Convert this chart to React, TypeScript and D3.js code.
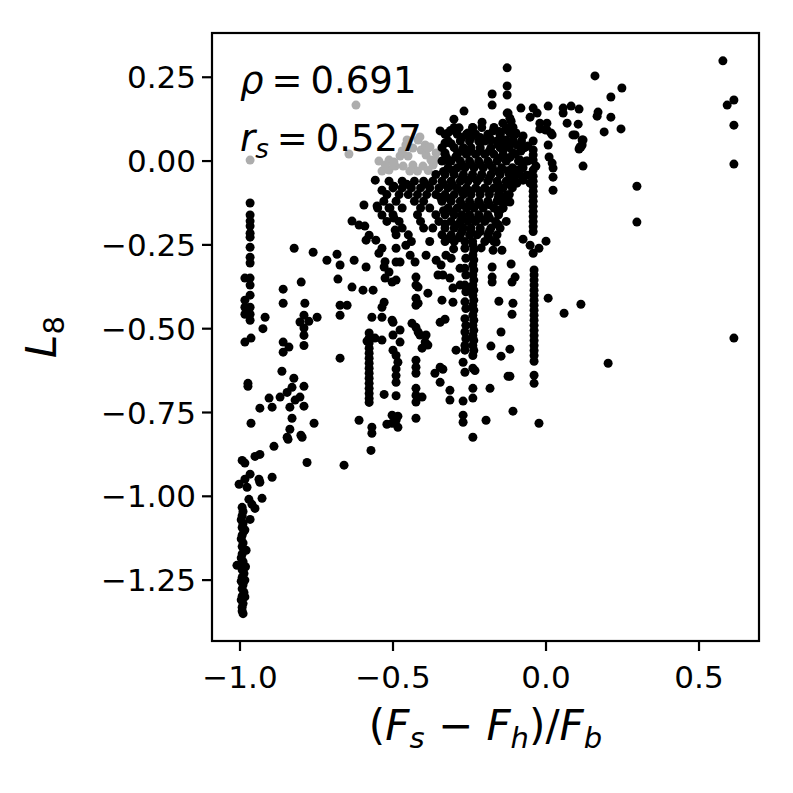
import React from "react";
import * as d3 from "d3";

type P = [number, number];

// ---- data (x = (Fs - Fh)/Fb, y = L8) ----
const greyPoints: P[] = [
  [-0.621, 0.167], [-0.967, 0.003], [-0.644, 0.021], [-0.546, 0.0], [-0.513, 0.003], [-0.497, -0.003],
  [-0.536, -0.030], [-0.513, -0.027], [-0.493, -0.015], [-0.500, -0.006], [-0.477, 0.015], [-0.458, 0.048],
  [-0.451, 0.015], [-0.418, 0.063], [-0.408, 0.033], [-0.395, 0.048], [-0.392, 0.018], [-0.376, 0.003],
  [-0.369, -0.012], [-0.435, -0.012], [-0.402, -0.015], [-0.467, -0.015], [-0.359, 0.024], [-0.359, 0.003],
  [-0.386, 0.039], [-0.435, 0.039], [-0.454, 0.063], [-0.412, 0.072], [-0.379, 0.042], [-0.470, 0.030],
  [-0.445, -0.030], [-0.420, -0.030], [-0.385, -0.028], [-0.525, -0.012],
];

const columnLeftBottom: P[] = [
  [-0.993, -1.033], [-0.990, -1.045], [-0.993, -1.058], [-0.996, -1.070], [-0.990, -1.081], [-0.993, -1.093],
  [-0.987, -1.104], [-0.993, -1.116], [-0.996, -1.127], [-0.990, -1.139], [-0.993, -1.150], [-0.987, -1.160],
  [-0.993, -1.172], [-0.996, -1.184], [-0.990, -1.195], [-0.993, -1.207], [-1.010, -1.206], [-0.993, -1.219],
  [-0.987, -1.230], [-0.993, -1.242], [-0.996, -1.253], [-0.990, -1.264], [-0.993, -1.276], [-0.987, -1.287],
  [-0.993, -1.298], [-0.996, -1.309], [-0.990, -1.320], [-0.993, -1.331], [-0.993, -1.342], [-0.990, -1.350],
  [-0.980, -1.161], [-0.984, -1.100], [-0.984, -1.250], [-0.984, -1.300], [-0.982, -1.210],
];

const leftArc: P[] = [
  [-0.889, -0.851], [-0.843, -0.830], [-0.797, -0.824], [-0.993, -0.893], [-0.984, -0.901], [-0.951, -0.881],
  [-0.935, -0.875], [-0.781, -0.899], [-0.660, -0.907], [-0.572, -0.863], [-0.967, -0.934], [-0.984, -0.949],
  [-1.003, -0.964], [-0.977, -0.973], [-0.938, -0.949], [-0.935, -0.958], [-0.895, -0.943], [-0.971, -1.009],
  [-0.961, -1.024], [-0.951, -1.036], [-0.928, -1.006], [-0.967, -1.069],
  [-0.824, -0.648], [-0.830, -0.675], [-0.791, -0.672], [-0.846, -0.690], [-0.869, -0.704], [-0.804, -0.704],
  [-0.820, -0.713], [-0.791, -0.731], [-0.905, -0.707], [-0.895, -0.734], [-0.935, -0.737], [-0.837, -0.734],
  [-0.830, -0.767], [-0.837, -0.800], [-0.801, -0.818], [-0.964, -0.782], [-0.846, -0.824], [-0.758, -0.782],
  [-0.611, -0.773], [-0.863, -0.627], [-0.974, -0.663], [-0.974, -0.672],
];

const columnLeftTop: P[] = [
  [-0.967, -0.125], [-0.967, -0.161], [-0.967, -0.179], [-0.967, -0.194], [-0.967, -0.215], [-0.967, -0.227],
  [-0.967, -0.257], [-0.967, -0.287], [-0.967, -0.304], [-0.984, -0.349], [-0.967, -0.349], [-0.967, -0.370],
  [-0.967, -0.400], [-0.984, -0.415], [-0.984, -0.436], [-0.967, -0.436], [-0.984, -0.457], [-0.967, -0.457],
  [-0.967, -0.475], [-0.984, -0.540], [-0.964, -0.528],
];

const midLeft: P[] = [
  [-0.918, -0.466], [-0.925, -0.500], [-0.859, -0.382], [-0.800, -0.361], [-0.823, -0.260], [-0.761, -0.272],
  [-0.716, -0.296], [-0.683, -0.278], [-0.673, -0.310], [-0.627, -0.296], [-0.588, -0.316], [-0.680, -0.352],
  [-0.634, -0.376], [-0.598, -0.385], [-0.565, -0.385], [-0.859, -0.424], [-0.788, -0.424], [-0.791, -0.460],
  [-0.804, -0.480], [-0.775, -0.478], [-0.791, -0.498], [-0.791, -0.520], [-0.791, -0.550], [-0.748, -0.466],
  [-0.859, -0.540], [-0.840, -0.555], [-0.859, -0.570], [-0.673, -0.430], [-0.650, -0.430], [-0.673, -0.460],
  [-0.673, -0.588],
];

const columnMinus058: P[] = [
  [-0.578, -0.513], [-0.578, -0.528], [-0.578, -0.543], [-0.578, -0.558], [-0.578, -0.573], [-0.578, -0.588],
  [-0.578, -0.603], [-0.578, -0.618], [-0.578, -0.633], [-0.578, -0.648], [-0.578, -0.663], [-0.578, -0.678],
  [-0.578, -0.693], [-0.578, -0.708], [-0.578, -0.720], [-0.585, -0.537], [-0.559, -0.528], [-0.536, -0.534],
  [-0.529, -0.696], [-0.503, -0.758], [-0.503, -0.782], [-0.520, -0.785], [-0.569, -0.794], [-0.569, -0.812],
  [-0.588, -0.236], [-0.556, -0.236], [-0.536, -0.260], [-0.546, -0.275], [-0.526, -0.300], [-0.529, -0.316],
  [-0.513, -0.331], [-0.526, -0.349], [-0.503, -0.361], [-0.529, -0.421], [-0.536, -0.436], [-0.569, -0.466],
  [-0.536, -0.466], [-0.503, -0.475],
];

const columnMinus049: P[] = [
  [-0.500, -0.481], [-0.477, -0.504], [-0.500, -0.519], [-0.477, -0.540], [-0.500, -0.564], [-0.484, -0.600],
  [-0.490, -0.580], [-0.490, -0.620], [-0.490, -0.640], [-0.490, -0.660], [-0.490, -0.700], [-0.484, -0.761],
  [-0.490, -0.773], [-0.484, -0.794],
];

const columnMinus042: P[] = [
  [-0.425, -0.346], [-0.425, -0.370], [-0.418, -0.376], [-0.425, -0.409], [-0.425, -0.430], [-0.418, -0.424],
  [-0.438, -0.484], [-0.425, -0.496], [-0.418, -0.510], [-0.412, -0.519], [-0.392, -0.519], [-0.395, -0.540],
  [-0.405, -0.558], [-0.386, -0.549], [-0.425, -0.594], [-0.425, -0.615], [-0.425, -0.633], [-0.425, -0.678],
  [-0.425, -0.699], [-0.425, -0.719], [-0.405, -0.704], [-0.425, -0.767], [-0.490, -0.355],
  [-0.490, -0.260], [-0.458, -0.251], [-0.444, -0.281], [-0.428, -0.301], [-0.490, -0.301], [-0.477, -0.301],
  [-0.392, -0.281], [-0.359, -0.296], [-0.343, -0.310], [-0.337, -0.340], [-0.314, -0.349], [-0.327, -0.281],
  [-0.310, -0.290], [-0.281, -0.320], [-0.281, -0.370], [-0.261, -0.379], [-0.304, -0.379], [-0.353, -0.340],
  [-0.386, -0.394], [-0.340, -0.415], [-0.304, -0.421], [-0.346, -0.481], [-0.330, -0.472], [-0.346, -0.615],
  [-0.337, -0.621], [-0.363, -0.633], [-0.346, -0.660], [-0.314, -0.684], [-0.314, -0.713],
];

const columnMinus026: P[] = [
  [-0.265, -0.260], [-0.262, -0.290], [-0.265, -0.320], [-0.262, -0.340], [-0.265, -0.370], [-0.262, -0.390],
  [-0.265, -0.420], [-0.262, -0.440], [-0.265, -0.470], [-0.262, -0.490], [-0.265, -0.510], [-0.262, -0.530],
  [-0.265, -0.550], [-0.265, -0.564], [-0.294, -0.564], [-0.271, -0.600], [-0.265, -0.630], [-0.271, -0.716],
  [-0.271, -0.758], [-0.271, -0.779],
];

const columnMinus024: P[] = [
  [-0.239, -0.250], [-0.236, -0.265], [-0.239, -0.280], [-0.236, -0.295], [-0.239, -0.310], [-0.236, -0.325],
  [-0.239, -0.340], [-0.236, -0.355], [-0.239, -0.370], [-0.236, -0.385], [-0.239, -0.400], [-0.236, -0.415],
  [-0.239, -0.430], [-0.236, -0.445], [-0.239, -0.460], [-0.236, -0.475], [-0.239, -0.490], [-0.236, -0.505],
  [-0.239, -0.520], [-0.236, -0.535], [-0.239, -0.550], [-0.236, -0.565], [-0.239, -0.580], [-0.239, -0.618],
  [-0.239, -0.678], [-0.239, -0.707], [-0.239, -0.824], [-0.232, -0.625],
];

const rightMid: P[] = [
  [-0.176, -0.316], [-0.176, -0.346], [-0.176, -0.361], [-0.114, -0.307], [-0.101, -0.346], [-0.111, -0.361],
  [-0.154, -0.418], [-0.108, -0.424], [-0.111, -0.457], [-0.147, -0.510], [-0.180, -0.552], [-0.147, -0.582],
  [-0.118, -0.561], [-0.124, -0.642], [-0.118, -0.642], [-0.183, -0.678], [-0.196, -0.773], [-0.108, -0.746],
  [-0.023, -0.782], [0.007, -0.409], [0.059, -0.454], [0.000, -0.239], [-0.023, -0.260], [-0.075, -0.233],
  [-0.052, -0.251], [-0.144, -0.266], [-0.173, -0.266], [-0.163, -0.242],
];

const columnMinus004: P[] = [
  [-0.042, -0.045], [-0.042, -0.060], [-0.042, -0.075], [-0.042, -0.090], [-0.042, -0.105], [-0.042, -0.120],
  [-0.042, -0.135], [-0.042, -0.150], [-0.042, -0.165], [-0.042, -0.180], [-0.042, -0.195], [-0.042, -0.210],
  [-0.042, -0.275], [-0.039, -0.325], [-0.039, -0.340], [-0.039, -0.355], [-0.039, -0.370], [-0.039, -0.385],
  [-0.039, -0.400], [-0.039, -0.415], [-0.039, -0.430], [-0.039, -0.445], [-0.039, -0.460], [-0.039, -0.475],
  [-0.039, -0.490], [-0.039, -0.505], [-0.039, -0.520], [-0.039, -0.535], [-0.039, -0.550], [-0.039, -0.565],
  [-0.039, -0.580], [-0.039, -0.597], [-0.039, -0.639], [-0.039, -0.663],
];

const upperCluster: P[] = [
  [-0.127, 0.278], [-0.127, 0.224], [-0.127, 0.197], [-0.176, 0.200], [-0.176, 0.167], [-0.268, 0.149],
  [-0.301, 0.125], [-0.284, 0.099], [-0.209, 0.116], [-0.239, 0.099], [-0.255, 0.084], [-0.346, 0.090],
  [-0.320, 0.084], [-0.330, 0.054], [-0.330, 0.024], [-0.327, 0.003], [-0.082, 0.158], [-0.042, 0.158],
  [-0.029, 0.143], [-0.052, 0.131], [0.007, 0.164], [-0.020, 0.113], [-0.003, 0.093], [0.016, 0.084],
  [0.056, 0.158], [0.082, 0.164], [0.108, 0.155], [0.056, 0.143], [0.069, 0.113], [0.105, 0.110],
  [0.088, 0.078], [0.121, 0.063], [0.114, 0.042], [0.108, 0.036], [0.121, -0.015], [0.003, 0.113],
  [-0.020, 0.096], [0.020, 0.078], [0.003, 0.093], [-0.124, 0.143], [-0.114, 0.119], [-0.118, 0.093],
  [-0.131, 0.063], [-0.108, 0.054], [-0.098, 0.084], [-0.173, 0.090], [-0.180, 0.063], [-0.150, 0.054],
  [-0.209, 0.063], [-0.075, 0.075], [-0.059, 0.045], [-0.082, 0.030], [-0.065, 0.000], [-0.042, 0.003],
  [-0.042, -0.027], [-0.033, -0.015], [-0.042, 0.060], [-0.042, 0.033], [-0.042, 0.018], [0.010, 0.012],
  [0.020, -0.006], [0.023, -0.021], [0.023, -0.048], [0.023, -0.087], [0.007, 0.048],
  [-0.127, 0.143], [-0.118, 0.128], [-0.141, 0.113], [-0.108, 0.101], [-0.118, 0.084], [-0.108, 0.063],
  [-0.150, 0.078], [-0.127, 0.048], [-0.141, 0.033], [-0.108, 0.024], [-0.085, 0.003], [-0.095, -0.027],
  [-0.108, -0.048], [-0.095, -0.066], [-0.150, -0.087], [-0.127, -0.101], [-0.118, -0.122], [-0.141, -0.125],
  [-0.150, -0.146], [-0.078, -0.018], [-0.069, 0.042], [-0.062, -0.042], [-0.075, -0.057], [-0.052, -0.066],
];

const farRight: P[] = [
  [0.160, 0.254], [0.248, 0.218], [0.212, 0.191], [0.170, 0.146], [0.167, 0.134], [0.212, 0.131],
  [0.190, 0.087], [0.245, 0.096], [0.095, 0.078], [0.118, 0.063], [0.111, 0.042], [0.118, 0.048],
  [0.297, -0.075], [0.297, -0.182], [0.578, 0.299], [0.592, 0.167], [0.614, 0.182], [0.614, 0.107],
  [0.614, -0.009], [0.614, -0.528], [0.114, -0.427], [0.203, -0.603],
];

const blobLeft: P[] = [
  [-0.558, -0.057], [-0.536, -0.087], [-0.513, -0.060], [-0.497, -0.075], [-0.595, -0.131], [-0.634, -0.179],
  [-0.611, -0.191], [-0.592, -0.194], [-0.578, -0.221], [-0.552, -0.134], [-0.536, -0.161], [-0.513, -0.140],
  [-0.497, -0.170], [-0.493, -0.206],
];

const blobCore: P[] = [
  [-0.300, 0.100], [-0.240, 0.100], [-0.210, 0.100], [-0.170, 0.100], [-0.120, 0.100],
  [-0.330, 0.080], [-0.290, 0.080], [-0.260, 0.080], [-0.230, 0.080], [-0.190, 0.080], [-0.150, 0.080], [-0.100, 0.080],
  [-0.320, 0.060], [-0.280, 0.060], [-0.250, 0.060], [-0.220, 0.060], [-0.200, 0.060], [-0.160, 0.060], [-0.130, 0.060], [-0.110, 0.060], [-0.080, 0.060],
  [-0.340, 0.040], [-0.300, 0.040], [-0.270, 0.040], [-0.245, 0.040], [-0.215, 0.040], [-0.180, 0.040], [-0.150, 0.040], [-0.120, 0.040], [-0.070, 0.040],
  [-0.330, 0.020], [-0.290, 0.020], [-0.260, 0.020], [-0.230, 0.020], [-0.200, 0.020], [-0.170, 0.020], [-0.140, 0.020], [-0.100, 0.020],
  [-0.340, 0.000], [-0.310, 0.000], [-0.280, 0.000], [-0.250, 0.000], [-0.220, 0.000], [-0.190, 0.000], [-0.160, 0.000], [-0.130, 0.000], [-0.090, 0.000], [-0.060, 0.000],
  [-0.320, -0.020], [-0.290, -0.020], [-0.265, -0.020], [-0.235, -0.020], [-0.205, -0.020], [-0.175, -0.020], [-0.145, -0.020], [-0.110, -0.020], [-0.075, -0.020],
  [-0.360, -0.040], [-0.330, -0.040], [-0.300, -0.040], [-0.270, -0.040], [-0.240, -0.040], [-0.210, -0.040], [-0.180, -0.040], [-0.150, -0.040], [-0.120, -0.040], [-0.085, -0.040],
  [-0.470, -0.060], [-0.430, -0.060], [-0.400, -0.060], [-0.370, -0.060], [-0.340, -0.060], [-0.310, -0.060], [-0.280, -0.060], [-0.255, -0.060], [-0.225, -0.060], [-0.190, -0.060], [-0.160, -0.060], [-0.130, -0.060], [-0.100, -0.060],
  [-0.500, -0.080], [-0.470, -0.080], [-0.440, -0.080], [-0.410, -0.080], [-0.380, -0.080], [-0.350, -0.080], [-0.320, -0.080], [-0.290, -0.080], [-0.260, -0.080], [-0.230, -0.080], [-0.200, -0.080], [-0.170, -0.080], [-0.140, -0.080], [-0.110, -0.080],
  [-0.520, -0.100], [-0.480, -0.100], [-0.450, -0.100], [-0.420, -0.100], [-0.390, -0.100], [-0.360, -0.100], [-0.330, -0.100], [-0.300, -0.100], [-0.270, -0.100], [-0.245, -0.100], [-0.215, -0.100], [-0.185, -0.100], [-0.155, -0.100], [-0.120, -0.100],
  [-0.530, -0.120], [-0.490, -0.120], [-0.430, -0.120], [-0.400, -0.120], [-0.340, -0.120], [-0.310, -0.120], [-0.280, -0.120], [-0.250, -0.120], [-0.220, -0.120], [-0.190, -0.120], [-0.160, -0.120], [-0.130, -0.120],
  [-0.550, -0.140], [-0.510, -0.140], [-0.470, -0.140], [-0.410, -0.140], [-0.380, -0.140], [-0.320, -0.140], [-0.290, -0.140], [-0.260, -0.140], [-0.235, -0.140], [-0.205, -0.140], [-0.170, -0.140], [-0.140, -0.140],
  [-0.500, -0.160], [-0.420, -0.160], [-0.360, -0.160], [-0.330, -0.160], [-0.300, -0.160], [-0.275, -0.160], [-0.250, -0.160], [-0.220, -0.160], [-0.190, -0.160], [-0.155, -0.160],
  [-0.520, -0.180], [-0.480, -0.180], [-0.410, -0.180], [-0.350, -0.180], [-0.310, -0.180], [-0.280, -0.180], [-0.255, -0.180], [-0.230, -0.180], [-0.200, -0.180], [-0.165, -0.180], [-0.130, -0.180],
  [-0.470, -0.200], [-0.400, -0.200], [-0.370, -0.200], [-0.330, -0.200], [-0.300, -0.200], [-0.270, -0.200], [-0.245, -0.200], [-0.215, -0.200], [-0.180, -0.200], [-0.150, -0.200],
  [-0.490, -0.220], [-0.450, -0.220], [-0.340, -0.220], [-0.310, -0.220], [-0.280, -0.220], [-0.250, -0.220], [-0.225, -0.220], [-0.190, -0.220], [-0.160, -0.220],
  [-0.440, -0.240], [-0.380, -0.240], [-0.330, -0.240], [-0.300, -0.240], [-0.265, -0.240], [-0.240, -0.240], [-0.200, -0.240], [-0.170, -0.240],
  [-0.275, 0.070], [-0.245, 0.070], [-0.215, 0.070], [-0.185, 0.070], [-0.275, 0.030], [-0.245, 0.030], [-0.215, 0.030], [-0.185, 0.030],
  [-0.275, -0.010], [-0.245, -0.010], [-0.215, -0.010], [-0.185, -0.010], [-0.275, -0.050], [-0.245, -0.050], [-0.215, -0.050], [-0.185, -0.050],
  [-0.275, -0.090], [-0.245, -0.090], [-0.215, -0.090], [-0.185, -0.090], [-0.275, -0.130], [-0.245, -0.130], [-0.215, -0.130], [-0.185, -0.130],
  [-0.275, -0.170], [-0.245, -0.170], [-0.215, -0.170], [-0.185, -0.170], [-0.275, -0.210], [-0.245, -0.210], [-0.215, -0.210], [-0.185, -0.210],
];

const blobFill: P[] = [
  [-0.325, 0.010], [-0.295, 0.012], [-0.155, 0.008], [-0.118, 0.011],
  [-0.310, 0.052], [-0.157, 0.049], [-0.126, 0.053], [-0.094, 0.047],
  [-0.312, 0.091], [-0.153, 0.088], [-0.132, 0.094],
  [-0.335, -0.031], [-0.305, -0.028], [-0.155, -0.032], [-0.125, -0.029], [-0.095, -0.033],
  [-0.455, -0.069], [-0.395, -0.068], [-0.335, -0.069], [-0.305, -0.072], [-0.156, -0.070], [-0.124, -0.068],
  [-0.345, -0.108], [-0.315, -0.112], [-0.156, -0.110], [-0.138, -0.109],
  [-0.335, -0.148], [-0.305, -0.152], [-0.157, -0.150],
  [-0.330, -0.188], [-0.295, -0.192], [-0.156, -0.190],
  [-0.320, -0.232], [-0.285, -0.229], [-0.186, -0.231],
  [-0.302, -0.262], [-0.212, -0.259],
];

const blackGroups: P[][] = [
  columnLeftBottom, leftArc, columnLeftTop, midLeft, columnMinus058, columnMinus049, columnMinus042,
  columnMinus026, columnMinus024, rightMid, columnMinus004, upperCluster, farRight, blobLeft, blobCore, blobFill,
];

const xTicks = [-1.0, -0.5, 0.0, 0.5];
const yTicks = [0.25, 0.0, -0.25, -0.5, -0.75, -1.0, -1.25];
const xDomain: [number, number] = [-1.0915, 0.696];
const yDomain: [number, number] = [-1.4316, 0.382];

const FONT = "'DejaVu Sans', sans-serif";

export default function App() {
  const left = 212, right = 759, top = 33, bottom = 641;
  const x = d3.scaleLinear().domain(xDomain).range([left, right]);
  const y = d3.scaleLinear().domain(yDomain).range([bottom, top]);
  const r = 4.5;
  const fmtX = (v: number) => (v < 0 ? "\u2212" : "") + Math.abs(v).toFixed(1);
  const fmtY = (v: number) => (v < 0 ? "\u2212" : "") + Math.abs(v).toFixed(2);
  const black = blackGroups.flat();
  return (
    <svg width={793} height={793} style={{ position: "absolute", left: 0, top: 0, background: "#fff" }} fontFamily={FONT}>
      <rect x={0} y={0} width={793} height={793} fill="#fff" />
      <g>
        {greyPoints.map((p, i) => (
          <circle key={"g" + i} cx={x(p[0])} cy={y(p[1])} r={r} fill="#adadad" />
        ))}
        {black.map((p, i) => (
          <circle key={"b" + i} cx={x(p[0])} cy={y(p[1])} r={r} fill="#000" />
        ))}
      </g>
      <rect x={left} y={top} width={right - left} height={bottom - top} fill="none" stroke="#000" strokeWidth={2.2} />
      {xTicks.map((t) => (
        <g key={"xt" + t}>
          <line x1={x(t)} x2={x(t)} y1={bottom} y2={bottom + 10} stroke="#000" strokeWidth={2.2} />
          <text x={x(t)} y={bottom + 47} textAnchor="middle" fontSize={31}>{fmtX(t)}</text>
        </g>
      ))}
      {yTicks.map((t) => (
        <g key={"yt" + t}>
          <line x1={left - 10} x2={left} y1={y(t)} y2={y(t)} stroke="#000" strokeWidth={2.2} />
          <text x={left - 16} y={y(t)} dy="0.36em" textAnchor="end" fontSize={31}>{fmtY(t)}</text>
        </g>
      ))}
      <text x={(left + right) / 2} y={740} textAnchor="middle" fontSize={42}>
        <tspan>(</tspan>
        <tspan fontStyle="italic">F</tspan>
        <tspan fontStyle="italic" fontSize={29} dy={8}>s</tspan>
        <tspan dy={-8}>{" \u2212 "}</tspan>
        <tspan fontStyle="italic">F</tspan>
        <tspan fontStyle="italic" fontSize={29} dy={8}>h</tspan>
        <tspan dy={-8}>)/</tspan>
        <tspan fontStyle="italic">F</tspan>
        <tspan fontStyle="italic" fontSize={29} dy={8}>b</tspan>
      </text>
      <text transform={`translate(56,${(top + bottom) / 2}) rotate(-90)`} textAnchor="middle" fontSize={42}>
        <tspan fontStyle="italic">L</tspan>
        <tspan fontSize={29} dy={8}>8</tspan>
      </text>
      <text x={240} y={93} fontSize={37}>
        <tspan fontStyle="italic">{"\u03C1"}</tspan>
        <tspan dx={8}>=</tspan>
        <tspan dx={8}>0.691</tspan>
      </text>
      <text x={240} y={151} fontSize={37}>
        <tspan fontStyle="italic">r</tspan>
        <tspan fontStyle="italic" fontSize={26} dy={7}>s</tspan>
        <tspan dy={-7} dx={8}>=</tspan>
        <tspan dx={8}>0.527</tspan>
      </text>
    </svg>
  );
}
